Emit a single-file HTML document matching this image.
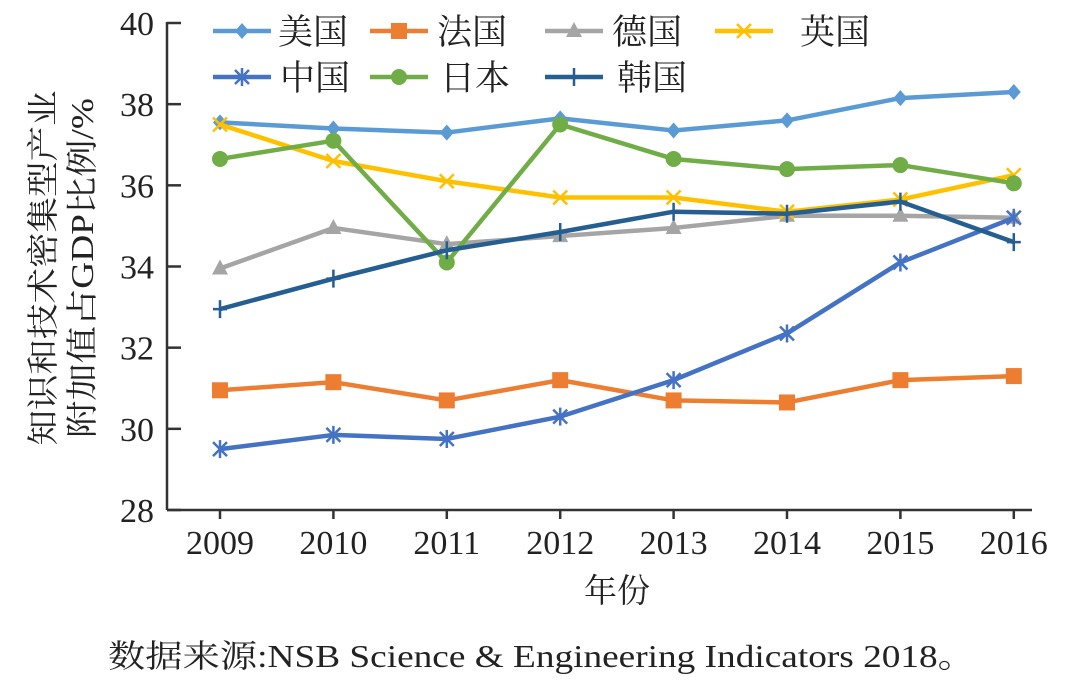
<!DOCTYPE html>
<html><head><meta charset="utf-8">
<style>
html,body{margin:0;padding:0;background:#fff;}
svg{display:block;}
text{font-family:"Liberation Serif","Noto Serif CJK SC",serif;fill:#222;}
</style></head>
<body>
<svg id="chart" width="1080" height="688" viewBox="0 0 1080 688">
<g id="axes"></g>
<g id="series"></g>
<g id="legend"></g>
<text x="0" y="0" transform="translate(54,268) rotate(-90)" text-anchor="middle" font-size="32" textLength="355" lengthAdjust="spacingAndGlyphs">知识和技术密集型产业</text>
<text x="0" y="0" transform="translate(93,268) rotate(-90)" text-anchor="middle" font-size="32" textLength="340" lengthAdjust="spacingAndGlyphs">附加值占GDP比例/%</text>
<text x="617" y="602" text-anchor="middle" font-size="33">年份</text>
<text x="108" y="667" font-size="32" textLength="867" lengthAdjust="spacingAndGlyphs">数据来源:NSB Science &amp; Engineering Indicators 2018。</text>
</svg>
<script>
const years = ['2009','2010','2011','2012','2013','2014','2015','2016'];
const yTicks = [28,30,32,34,36,38,40];
const names = ['美国','法国','德国','英国','中国','日本','韩国'];
const us = [37.55,37.4,37.3,37.65,37.35,37.6,38.15,38.3];
const france = [30.95,31.15,30.7,31.2,30.7,30.65,31.2,31.3];
const germany = [33.95,34.95,34.55,34.75,34.95,35.25,35.25,35.2];
const uk = [37.5,36.6,36.1,35.7,35.7,35.35,35.65,36.25];
const china = [29.5,29.85,29.75,30.3,31.2,32.35,34.1,35.2];
const japan = [36.65,37.1,34.1,37.5,36.65,36.4,36.5,36.05];
const korea = [32.95,33.7,34.4,34.85,35.35,35.3,35.6,34.6];

const NS='http://www.w3.org/2000/svg';
function mk(tag,attrs,parent){const e=document.createElementNS(NS,tag);for(const k in attrs)e.setAttribute(k,attrs[k]);parent.appendChild(e);return e;}
const x0=220,dx=113.4;
function xs(i){return x0+i*dx;}
function ys(v){return 510-(v-28)*(487/12);}
const axes=document.getElementById('axes');
let a=mk('line',{x1:167,y1:22,x2:167,y2:510,stroke:'#333','stroke-width':2.5},axes);

a=mk('line',{x1:167,y1:510,x2:1032,y2:510,stroke:'#333','stroke-width':2.5},axes);

yTicks.forEach(v=>{
  const t=mk('line',{x1:167,y1:ys(v),x2:181,y2:ys(v),stroke:'#333','stroke-width':2.5},axes);
  
  const l=mk('text',{x:154,y:ys(v)+12,'text-anchor':'end','font-size':34},axes);l.textContent=v;
  
});
years.forEach((yr,i)=>{
  const t=mk('line',{x1:xs(i),y1:510,x2:xs(i),y2:519,stroke:'#333','stroke-width':2.5},axes);
  
  const l=mk('text',{x:xs(i),y:554,'text-anchor':'middle','font-size':34},axes);l.textContent=yr;
  
});
const cfg=[
 {d:us,c:'#5b9bd5',m:'diamond',n:'us'},
 {d:france,c:'#ed7d31',m:'square',n:'france'},
 {d:germany,c:'#a5a5a5',m:'triangle',n:'germany'},
 {d:uk,c:'#ffc000',m:'x',n:'uk'},
 {d:china,c:'#4472c4',m:'star',n:'china'},
 {d:japan,c:'#70ad47',m:'circle',n:'japan'},
 {d:korea,c:'#255e91',m:'plus',n:'korea'}
];
function marker(g,type,x,y,c){
  let e;
  if(type==='diamond')e=mk('polygon',{points:`${x},${y-8} ${x+7},${y} ${x},${y+8} ${x-7},${y}`,fill:c},g);
  else if(type==='square')e=mk('rect',{x:x-8,y:y-8,width:16,height:16,fill:c},g);
  else if(type==='triangle')e=mk('polygon',{points:`${x},${y-9} ${x+8},${y+6} ${x-8},${y+6}`,fill:c},g);
  else if(type==='circle')e=mk('circle',{cx:x,cy:y,r:8,fill:c},g);
  else if(type==='x')e=mk('path',{d:`M${x-7},${y-7}L${x+7},${y+7}M${x-7},${y+7}L${x+7},${y-7}`,stroke:c,'stroke-width':2.5},g);
  else if(type==='star')e=mk('path',{d:`M${x-7},${y-7}L${x+7},${y+7}M${x-7},${y+7}L${x+7},${y-7}M${x},${y-9}L${x},${y+9}`,stroke:c,'stroke-width':2.5},g);
  else e=mk('path',{d:`M${x},${y-9}L${x},${y+9}M${x-7},${y}L${x+7},${y}`,stroke:c,'stroke-width':2.5},g);
  
}
const sg=document.getElementById('series');
cfg.forEach(s=>{
  const g=mk('g',{},sg);
  
  const p=mk('polyline',{points:s.d.map((v,i)=>xs(i)+','+ys(v)).join(' '),fill:'none',stroke:s.c,'stroke-width':4.5,'stroke-linejoin':'round'},g);
  
  s.d.forEach((v,i)=>marker(g,s.m,xs(i),ys(v),s.c));
});
const lg=document.getElementById('legend');
const lpos=[[213,31],[370,31],[545,31],[715,31],[213,77],[370,77],[545,77]];
const lab=[278,437,612,800,280,440,617];
cfg.forEach((s,i)=>{
  const [lx,ly]=lpos[i];
  const g=mk('g',{},lg);
  
  mk('line',{x1:lx,y1:ly,x2:lx+58,y2:ly,stroke:s.c,'stroke-width':4.5},g);
  marker(g,s.m,lx+29,ly,s.c);
  const t=mk('text',{x:lab[i],y:ly+13,'font-size':35},g);t.textContent=names[i];
  
});
</script>
</body></html>
